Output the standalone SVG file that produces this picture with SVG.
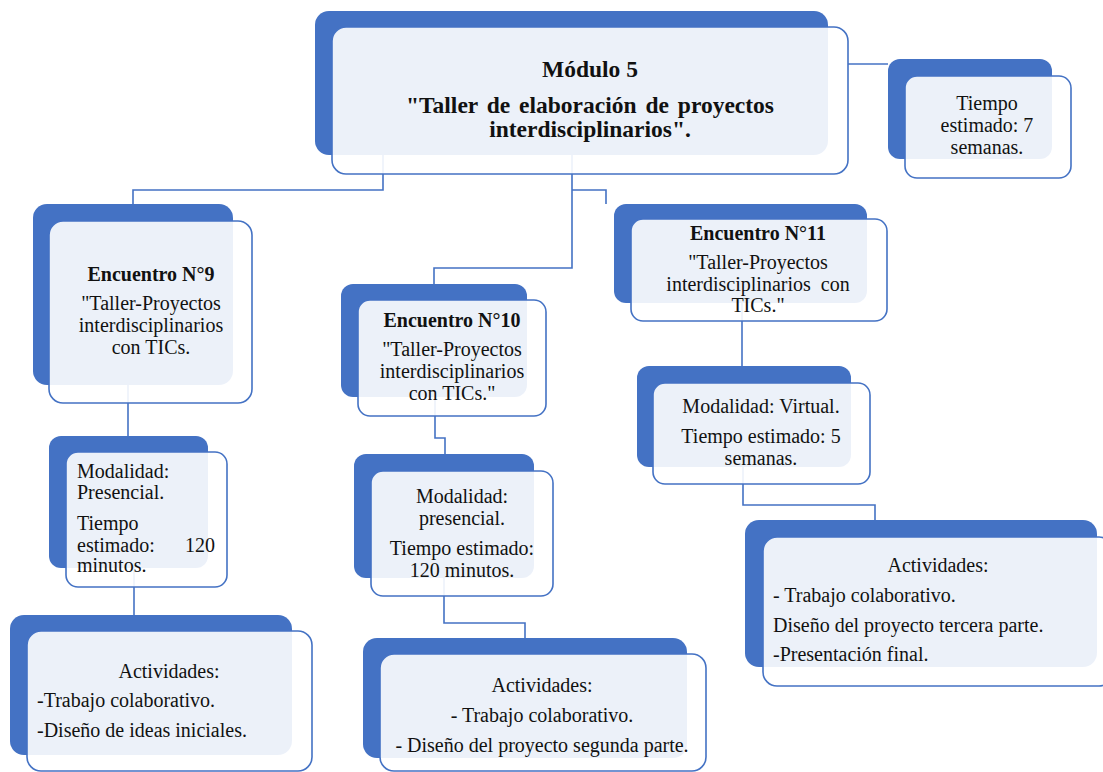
<svg xmlns="http://www.w3.org/2000/svg" width="1103" height="772" viewBox="0 0 1103 772">
<style>
.back{fill:#4472C4;}
.front{fill:#ffffff;fill-opacity:0.9;stroke:#4472C4;stroke-width:1.6;}
.conn{fill:none;stroke:#4472C4;stroke-width:1.6;}
text{font-family:"Liberation Serif","Times New Roman",serif;font-size:20px;fill:#111;}
.b{font-weight:bold;}
.big{font-size:23.5px;font-weight:bold;}
.c{text-anchor:middle;}
</style>
<rect width="1103" height="772" fill="#ffffff"/>
<g id="connectors">
<path class="conn" d="M848,64 H888"/>
<path class="conn" d="M383,155 V190 H133 V204"/>
<path class="conn" d="M572,155 V268 H434 V284"/>
<path class="conn" d="M572,190 H606 V204"/>
<path class="conn" d="M128,385 V436"/>
<path class="conn" d="M134,568 V615"/>
<path class="conn" d="M435,397 V438 H445 V454"/>
<path class="conn" d="M444,578 V623 H525 V638"/>
<path class="conn" d="M742,303 V366"/>
<path class="conn" d="M743,467 V505 H875 V520"/>
</g>
<g id="main">
<rect class="back" x="315" y="11" width="513" height="144" rx="14"/>
<rect class="front" x="332" y="27" width="516" height="147" rx="14"/>
<text class="big c" x="590" y="77">Módulo 5</text>
<text class="big c" x="590" y="113" word-spacing="3">"Taller de elaboración de proyectos</text>
<text class="big c" x="590" y="137">interdisciplinarios".</text>
</g>
<g id="tiempo">
<rect class="back" x="888" y="59" width="164" height="100" rx="12"/>
<rect class="front" x="905" y="76" width="166" height="102" rx="12"/>
<text class="c" x="987" y="110">Tiempo</text>
<text class="c" x="987" y="132">estimado: 7</text>
<text class="c" x="987" y="154">semanas.</text>
</g>
<g id="enc9">
<rect class="back" x="33" y="204" width="200" height="181" rx="14"/>
<rect class="front" x="49" y="221" width="203" height="182" rx="14"/>
<text class="b c" x="151" y="281">Encuentro N°9</text>
<text class="c" x="151" y="310">"Taller-Proyectos</text>
<text class="c" x="151" y="332">interdisciplinarios</text>
<text class="c" x="151" y="354">con TICs.</text>
</g>
<g id="enc10">
<rect class="back" x="341" y="284" width="186" height="113" rx="12"/>
<rect class="front" x="358" y="300" width="188" height="116" rx="12"/>
<text class="b c" x="452" y="327">Encuentro N°10</text>
<text class="c" x="452" y="356">"Taller-Proyectos</text>
<text class="c" x="452" y="378">interdisciplinarios</text>
<text class="c" x="452" y="400">con TICs."</text>
</g>
<g id="enc11">
<rect class="back" x="614" y="204" width="253" height="99" rx="12"/>
<rect class="front" x="631" y="219" width="256" height="102" rx="12"/>
<text class="b c" x="758" y="240">Encuentro N°11</text>
<text class="c" x="758" y="269">"Taller-Proyectos</text>
<text class="c" x="758" y="291" word-spacing="5">interdisciplinarios con</text>
<text class="c" x="758" y="312">TICs."</text>
</g>
<g id="mod9">
<rect class="back" x="49" y="436" width="159" height="132" rx="12"/>
<rect class="front" x="66" y="452" width="161" height="135" rx="12"/>
<text x="77" y="478">Modalidad:</text>
<text x="77" y="499">Presencial.</text>
<text x="77" y="530">Tiempo</text>
<text x="77" y="552">estimado:</text>
<text x="215" y="552" text-anchor="end">120</text>
<text x="77" y="572">minutos.</text>
</g>
<g id="mod10">
<rect class="back" x="354" y="454" width="180" height="124" rx="12"/>
<rect class="front" x="371" y="471" width="182" height="125" rx="12"/>
<text class="c" x="462" y="503">Modalidad:</text>
<text class="c" x="462" y="525">presencial.</text>
<text class="c" x="462" y="555">Tiempo estimado:</text>
<text class="c" x="462" y="577">120 minutos.</text>
</g>
<g id="mod11">
<rect class="back" x="637" y="366" width="214" height="101" rx="12"/>
<rect class="front" x="653" y="383" width="217" height="101" rx="12"/>
<text class="c" x="761" y="413">Modalidad: Virtual.</text>
<text class="c" x="761" y="443">Tiempo estimado: 5</text>
<text class="c" x="761" y="465">semanas.</text>
</g>
<g id="act9">
<rect class="back" x="10" y="615" width="282" height="140" rx="14"/>
<rect class="front" x="27" y="631" width="285" height="140" rx="14"/>
<text class="c" x="169" y="678">Actividades:</text>
<text x="37" y="707">-Trabajo colaborativo.</text>
<text x="37" y="737">-Diseño de ideas iniciales.</text>
</g>
<g id="act10">
<rect class="back" x="363" y="638" width="324" height="120" rx="14"/>
<rect class="front" x="380" y="654" width="326" height="117" rx="14"/>
<text class="c" x="542" y="692">Actividades:</text>
<text class="c" x="542" y="722">- Trabajo colaborativo.</text>
<text class="c" x="542" y="752">- Diseño del proyecto segunda parte.</text>
</g>
<g id="act11">
<rect class="back" x="745" y="520" width="352" height="147" rx="14"/>
<rect class="front" x="763" y="537" width="350" height="149" rx="14"/>
<text class="c" x="938" y="572">Actividades:</text>
<text x="773" y="602">- Trabajo colaborativo.</text>
<text x="773" y="632">Diseño del proyecto tercera parte.</text>
<text x="773" y="661">-Presentación final.</text>
</g>
</svg>
